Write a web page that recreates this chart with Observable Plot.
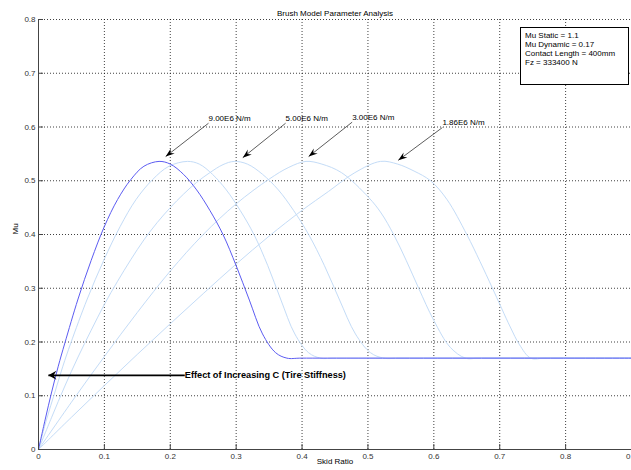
<!DOCTYPE html>
<html><head><meta charset="utf-8">
<script src="https://cdn.jsdelivr.net/npm/d3@7"></script>
<script src="https://cdn.jsdelivr.net/npm/@observablehq/plot@0.6"></script>
<style>
html,body{margin:0;padding:0;overflow:hidden;background:#fff;}
#wrap{position:relative;width:631px;height:470px;overflow:hidden;}
#legend{position:absolute;left:520px;top:27px;width:109px;height:58px;box-sizing:border-box;border:1px solid #000;background:#fff;
 font:8px "Liberation Sans",Arial,sans-serif;color:#000;padding:2.7px 0 0 4px;line-height:9.2px;white-space:nowrap;}
</style></head>
<body><div id="wrap"><div id="chart"></div>
<div id="legend"></div></div>
<script>
// ---- data ----
const title = "Brush Model Parameter Analysis";
const xLabel = "Skid Ratio";
const yLabel = "Mu";
const xTicks = [0,0.1,0.2,0.3,0.4,0.5,0.6,0.7,0.8,0.9];
const yTicks = [0,0.1,0.2,0.3,0.4,0.5,0.6,0.7,0.8];
const legendLines = ["Mu Static = 1.1","Mu Dynamic = 0.17","Contact Length = 400mm","Fz = 333400 N"];

// C = 9.00E6 N/m (highlighted)
const c9x = [0,0.01,0.02,0.03,0.04,0.06,0.08,0.10,0.12,0.14,0.16,0.183,0.20,0.22,0.24,0.26,0.28,0.30,0.32,0.34,0.36,0.377,0.40,0.9];
const c9y = [0,0.055,0.107,0.155,0.198,0.28,0.352,0.415,0.465,0.502,0.527,0.536,0.531,0.512,0.483,0.445,0.40,0.342,0.278,0.215,0.18,0.17,0.17,0.17];
// C = 7.00E6 N/m
const c7x = [0,0.012,0.025,0.037,0.049,0.074,0.099,0.124,0.148,0.173,0.198,0.226,0.244,0.264,0.285,0.306,0.327,0.348,0.368,0.389,0.41,0.428,0.45,0.9];
const c7y = [0,0.055,0.107,0.155,0.198,0.28,0.352,0.415,0.465,0.502,0.527,0.536,0.531,0.512,0.483,0.445,0.40,0.342,0.278,0.215,0.18,0.17,0.17,0.17];
// C = 5.00E6 N/m
const c5x = [0,0.02,0.04,0.06,0.08,0.10,0.12,0.14,0.16,0.18,0.20,0.22,0.24,0.26,0.28,0.297,0.317,0.34,0.364,0.387,0.41,0.434,0.457,0.481,0.504,0.524,0.55,0.9];
const c5y = [0,0.06,0.118,0.172,0.222,0.27,0.313,0.353,0.39,0.422,0.45,0.475,0.497,0.515,0.53,0.536,0.531,0.512,0.483,0.445,0.40,0.342,0.278,0.215,0.18,0.17,0.17,0.17];
// C = 3.00E6 N/m
const c3x = [0,0.05,0.10,0.15,0.20,0.25,0.30,0.35,0.38,0.406,0.43,0.46,0.501,0.52,0.539,0.558,0.577,0.60,0.625,0.648,0.67,0.9];
const c3y = [0,0.088,0.173,0.255,0.332,0.40,0.457,0.503,0.525,0.536,0.531,0.515,0.469,0.44,0.40,0.352,0.30,0.24,0.19,0.17,0.17,0.17];
// C = 1.86E6 N/m
const c186x = [0,0.05,0.10,0.15,0.20,0.25,0.30,0.35,0.40,0.44,0.48,0.519,0.545,0.57,0.595,0.62,0.65,0.67,0.689,0.716,0.73,0.747,0.77,0.9];
const c186y = [0,0.06,0.119,0.177,0.234,0.29,0.345,0.397,0.445,0.48,0.515,0.536,0.531,0.518,0.50,0.465,0.40,0.35,0.30,0.228,0.195,0.17,0.17,0.17];

// stiffness annotations: label, text anchor point, arrow tip (data units)
const annLabels = ["9.00E6 N/m","5.00E6 N/m","3.00E6 N/m","1.86E6 N/m"];
const annTextX = [0.258,0.375,0.476,0.613];
const annTextY = [0.616,0.616,0.618,0.608];
const annTipX  = [0.193,0.31,0.41,0.546];
const annTipY  = [0.545,0.543,0.545,0.538];
const effectLabel = "Effect of Increasing C (Tire Stiffness)";
const effectFromX = 0.222, effectToX = 0.015, effectY = 0.138;

// ---- build ----
const toRows = (xs, ys, c) => xs.map((x,i) => ({x, y: ys[i], c}));
const light = [].concat(toRows(c7x,c7y,"7"), toRows(c5x,c5y,"5"), toRows(c3x,c3y,"3"), toRows(c186x,c186y,"1.86"));
const dark = toRows(c9x,c9y,"9");

const W = 631, H = 470, mL = 38, mR = 0, mT = 19, mB = 21;
const fw = W - mL - mR, fh = H - mT - mB;
const kx = fw / 0.9, ky = fh / 0.8; // px per data unit (for arrowhead orientation only)
const angle = (x1,y1,x2,y2) => Math.atan2((x2-x1)*kx, (y2-y1)*ky) * 180 / Math.PI;

const arrows = annLabels.map((t,i)=>({t, x1: annTextX[i], y1: annTextY[i]-0.009, x2: annTipX[i], y2: annTipY[i], tx: annTextX[i], ty: annTextY[i]}));
arrows.forEach(a => a.rot = angle(a.x1,a.y1,a.x2,a.y2));
const effect = [{x1: effectFromX, x2: effectToX, y: effectY, t: effectLabel, rot: angle(effectFromX,effectY,effectToX,effectY)}];

// notched filled arrowhead with the tip at the symbol origin, pointing up
const headSymbol = (L, w) => ({draw(ctx) { ctx.moveTo(0,0); ctx.lineTo(-w, L); ctx.lineTo(0, L*0.65); ctx.lineTo(w, L); ctx.closePath(); }});

const font = '"Liberation Sans", Arial, sans-serif';
const fmt = d => String(+d.toFixed(1));

const chart = Plot.plot({
  width: W, height: H, marginLeft: mL, marginRight: mR, marginTop: mT, marginBottom: mB,
  style: {fontFamily: font, fontSize: "8px", background: "#fff", color: "#333", overflow: "visible"},
  x: {domain: [0, 0.9], ticks: xTicks, tickFormat: fmt, tickSize: 0, tickPadding: 4, label: null},
  y: {domain: [0, 0.8], ticks: yTicks, tickFormat: fmt, tickSize: 0, tickPadding: 3, label: null},
  marks: [
    Plot.ruleX(xTicks.slice(1), {stroke: "#000", strokeOpacity: 0.75, strokeDasharray: "1,2"}),
    Plot.ruleY(yTicks.slice(1), {stroke: "#000", strokeOpacity: 0.75, strokeDasharray: "1,2"}),
    Plot.line(light, {x: "x", y: "y", z: "c", stroke: "#c4dcf7", strokeWidth: 1, curve: "catmull-rom"}),
    Plot.line(dark, {x: "x", y: "y", stroke: "#5c5cf2", strokeWidth: 1, curve: "catmull-rom"}),
    Plot.ruleX([0], {stroke: "#444"}),
    Plot.ruleY([0], {stroke: "#444"}),
    Plot.ruleX(xTicks, {stroke: "#444", insetTop: fh - 5}),
    Plot.ruleY(yTicks, {stroke: "#444", insetRight: fw - 5}),
    Plot.text([title], {frameAnchor: "top", dy: -9, fill: "#000"}),
    Plot.text([xLabel], {frameAnchor: "bottom", dy: 14, fill: "#000"}),
    Plot.text([yLabel], {frameAnchor: "left", dx: -23, rotate: -90, fill: "#000"}),
    Plot.link(arrows, {x1: "x1", y1: "y1", x2: "x2", y2: "y2", stroke: "#333", strokeWidth: 0.8}),
    Plot.dot(arrows, {x: "x2", y: "y2", rotate: "rot", symbol: headSymbol(9, 3.2), fill: "#000", stroke: "none", r: 1}),
    Plot.text(arrows, {x: "tx", y: "ty", text: "t", textAnchor: "start", fill: "#000"}),
    Plot.link(effect, {x1: "x1", x2: "x2", y1: "y", y2: "y", stroke: "#000", strokeWidth: 1.6}),
    Plot.dot(effect, {x: "x2", y: "y", rotate: "rot", symbol: headSymbol(8, 4.5), fill: "#000", stroke: "none", r: 1}),
    Plot.text(effect, {x: "x1", y: "y", text: "t", textAnchor: "start", fontWeight: "bold", fontSize: 9.2, fill: "#000"})
  ]
});
document.getElementById("chart").append(chart);
document.getElementById("legend").innerHTML = legendLines.map(s => `<div>${s}</div>`).join("");
</script>
</body></html>
